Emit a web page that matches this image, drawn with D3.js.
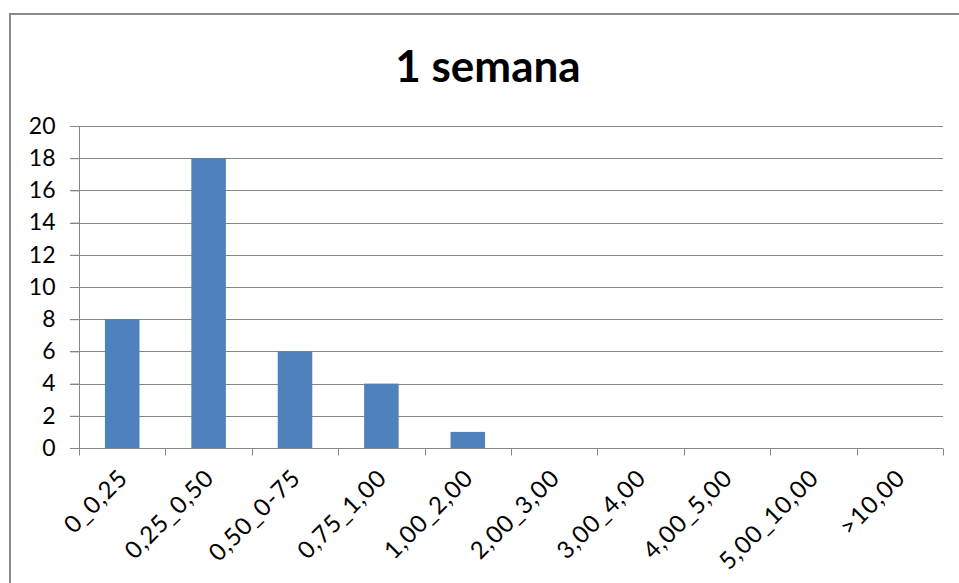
<!DOCTYPE html>
<html><head><meta charset="utf-8">
<script src="https://cdn.jsdelivr.net/npm/d3@7/dist/d3.min.js"></script>
<style>
html,body{margin:0;padding:0;background:#fff;}
svg{display:block;}
text{font-family:Lato,"Open Sans",sans-serif;fill:#000;}
</style></head>
<body>
<script>
const categories = ["0_0,25","0,25_0,50","0,50_0-75","0,75_1,00","1,00_2,00","2,00_3,00","3,00_4,00","4,00_5,00","5,00_10,00",">10,00"];
const values = [8,18,6,4,1,0,0,0,0,0];
const yTicks = [0,2,4,6,8,10,12,14,16,18,20];
const title = "1 semana";

const W = 959, H = 583;
const svg = d3.select("body").append("svg").attr("width", W).attr("height", H);

// chart frame
svg.append("path").attr("d", `M10,${H+5} L10,14 L${W+5},14`)
  .attr("fill","none").attr("stroke","#8a8a8a").attr("stroke-width",2);

svg.append("text").attr("x", 488).attr("y", 82).attr("text-anchor","middle")
  .style("font-size","44px").style("font-weight","bold").text(title);

const x0 = 79, x1 = 943, y0 = 448, y1 = 126;
const x = d3.scaleBand().domain(categories).range([x0, x1]).paddingInner(0.6).paddingOuter(0.3);
const xb = d3.scaleBand().domain(categories).range([x0, x1]);
const y = d3.scaleLinear().domain([0,20]).range([y0, y1]);

// gridlines
svg.append("g").selectAll("line").data(yTicks.filter(d=>d>0)).join("line")
  .attr("x1", x0-9).attr("x2", x1).attr("y1", d=>Math.round(y(d))+0.5).attr("y2", d=>Math.round(y(d))+0.5)
  .attr("stroke","#878787").attr("stroke-width",1);

// bars
svg.append("g").selectAll("rect").data(values).join("rect")
  .attr("x", (d,i)=>x(categories[i])).attr("width", x.bandwidth())
  .attr("y", d=>y(d)).attr("height", d=>y0-y(d)).attr("fill","#4F81BD");

// y axis
const yAxis = svg.append("g").attr("transform", `translate(${x0+0.5},0)`)
  .call(d3.axisLeft(y).tickValues(yTicks).tickSize(9).tickPadding(15));
yAxis.selectAll("line,path").attr("stroke","#878787");
yAxis.select(".domain").attr("d", `M0,${y1}V${y0}`);
yAxis.selectAll("text").style("font-size","23px").style("font-family","Lato,'Open Sans',sans-serif").attr("fill","#000");

// x axis
const xAxis = svg.append("g").attr("transform", `translate(0,${y0+0.5})`);
xAxis.append("line").attr("x1", x0-9).attr("x2", x1).attr("stroke","#878787");
const bounds = categories.map(c=>xb(c)).concat([x1]);
xAxis.selectAll("line.t").data(bounds).join("line").attr("class","t")
  .attr("x1", d=>Math.round(d)+0.5).attr("x2", d=>Math.round(d)+0.5).attr("y1",0).attr("y2",7)
  .attr("stroke","#878787");
xAxis.selectAll("text").data(categories).join("text")
  .attr("transform", d=>`translate(${xb(d)+xb.bandwidth()/2+7},${31}) rotate(-45)`)
  .attr("text-anchor","end")
  .style("font-size","24px").style("letter-spacing","1px").text(d=>d);
</script>
</body></html>
